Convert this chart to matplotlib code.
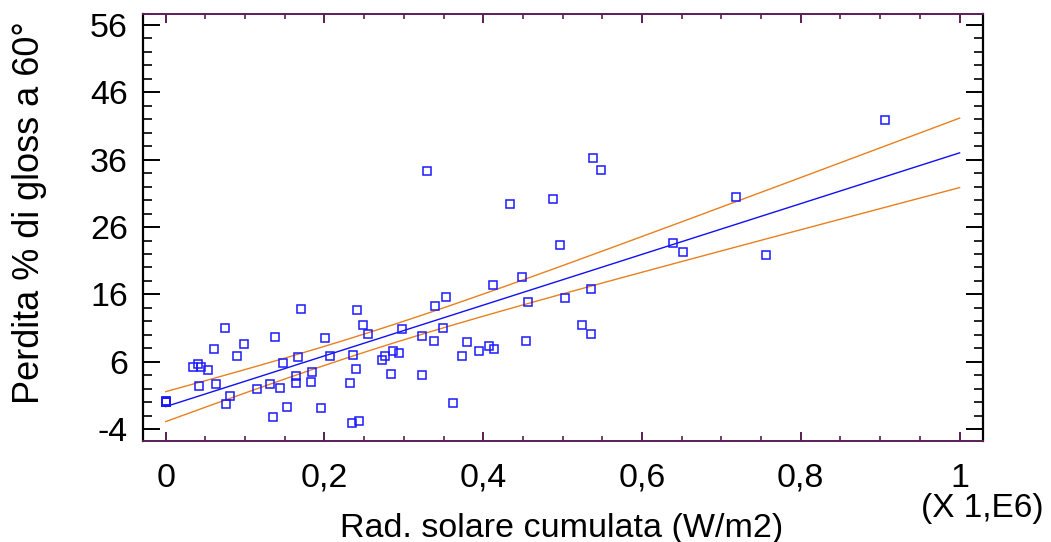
import numpy as np
import matplotlib
matplotlib.use("Agg")
import matplotlib.pyplot as plt
from matplotlib.ticker import MultipleLocator, FuncFormatter

plt.rcParams['font.family'] = ['Liberation Sans', 'DejaVu Sans']

# Cumulative solar radiation (x 1e6 W/m2) and gloss loss at 60 degrees (%)
rad = [0.0, 0.0, 0.0, 0.0, 0.0, 0.0, 0.0, 0.0, 0.0, 0.0,
       0.0341, 0.0403, 0.0442, 0.0537, 0.0420, 0.0628, 0.0612, 0.0747,
       0.0895, 0.0987, 0.0806, 0.0764, 0.1147, 0.1314, 0.1434, 0.1371, 0.1476, 0.1355,
       0.1532, 0.1699, 0.1671, 0.1636, 0.1636, 0.1846, 0.1831, 0.1951, 0.2011, 0.2070,
       0.2316, 0.2364, 0.2398, 0.2411, 0.2350, 0.2433, 0.2486, 0.2545, 0.2726, 0.2760,
       0.2860, 0.2936, 0.2843, 0.2974, 0.3230, 0.3230, 0.3289, 0.3381, 0.3393, 0.3494,
       0.3528, 0.3620, 0.3737, 0.3793, 0.3944, 0.4078, 0.4137, 0.4120, 0.4335, 0.4492,
       0.4536, 0.4569, 0.4880, 0.4969, 0.5032, 0.5242, 0.5359, 0.5359, 0.5388, 0.5479,
       0.6384, 0.6518, 0.7186, 0.7560, 0.9060]
gloss = [0.0, 0.15, 0.0, 0.0, 0.1, 0.0, 0.0, 0.15, 0.0, 0.0,
         5.17, 5.62, 5.17, 4.77, 2.47, 2.69, 7.89, 11.08,
         6.85, 8.62, 0.97, -0.29, 1.98, 2.69, 2.17, 9.65, 5.80, -2.22,
         -0.65, 13.88, 6.66, 3.95, 2.83, 4.55, 3.02, -0.84, 9.51, 6.83,
         2.80, 7.07, 4.95, 13.71, -3.11, -2.77, 11.43, 10.19, 6.33, 6.88,
         7.62, 7.37, 4.25, 10.93, 9.89, 4.06, 34.33, 9.15, 14.25, 11.08,
         15.63, -0.14, 6.88, 8.96, 7.58, 8.41, 7.87, 17.37, 29.48, 18.60,
         9.15, 14.94, 30.13, 23.35, 15.46, 11.43, 16.82, 10.19, 36.26, 34.53,
         23.69, 22.27, 30.52, 21.91, 41.86]

x = np.asarray(rad)
y = np.asarray(gloss)

# Least-squares line with 95% confidence limits for the mean response
n = len(x)
slope, intercept = np.polyfit(x, y, 1)
resid = y - (intercept + slope * x)
s = np.sqrt(np.sum(resid ** 2) / (n - 2))
sxx = np.sum((x - x.mean()) ** 2)
t95 = 1.99
xf = np.linspace(0.0, 1.0, 201)
yf = intercept + slope * xf
half = t95 * s * np.sqrt(1.0 / n + (xf - x.mean()) ** 2 / sxx)

W, H = 1051, 542
fig = plt.figure(figsize=(W / 100, H / 100), dpi=100)
ax = fig.add_axes([143 / W, 1 - 441 / H, (983 - 143) / W, (441 - 14) / H])

orange = '#E8801E'
ax.plot(xf, yf + half, color=orange, lw=1.0, zorder=2)
ax.plot(xf, yf - half, color=orange, lw=1.0, zorder=2)
ax.plot(xf, yf, color='#1010F0', lw=1.0, zorder=3)
ax.plot(x, y, ls='none', marker='s', ms=5.4, mfc='none', mec='#1a1aff', mew=1.1, zorder=4)

ax.set_xlim(-0.0286, 1.0295)
ax.set_ylim(-5.74, 57.6)

ax.xaxis.set_major_locator(MultipleLocator(0.2))
ax.xaxis.set_minor_locator(MultipleLocator(0.05))
ax.yaxis.set_major_locator(MultipleLocator(10, offset=6))
ax.yaxis.set_minor_locator(MultipleLocator(2))


def xfmt(v, pos):
    if abs(v - round(v)) < 1e-9:
        return f"{int(round(v))}"
    return f"{v:.1f}".replace('.', ',')


ax.xaxis.set_major_formatter(FuncFormatter(xfmt))
ax.yaxis.set_major_formatter(FuncFormatter(lambda v, p: f"{int(round(v))}"))

purple = '#5A1E55'
for side in ('top', 'bottom'):
    ax.spines[side].set_color(purple)
    ax.spines[side].set_linewidth(1.4)
for side in ('left', 'right'):
    ax.spines[side].set_color('black')
    ax.spines[side].set_linewidth(1.6)

ax.tick_params(axis='y', which='both', direction='in', left=True, right=True,
               colors='black', labelsize=24.5, pad=11)
ax.tick_params(axis='y', which='major', length=12, width=1.4)
ax.tick_params(axis='y', which='minor', length=6.5, width=1.2)
ax.tick_params(axis='x', which='both', direction='in', bottom=True, top=True,
               color=purple, labelcolor='black', labelsize=24.5, pad=15.5)
ax.tick_params(axis='x', which='major', length=6.5, width=1.4)
ax.tick_params(axis='x', which='minor', length=3.8, width=1.2)

fig.text(562 / W, 1 - 536.7 / H, 'Rad. solare cumulata (W/m2)', fontsize=24.5,
         ha='center', va='baseline')
fig.text(30 / W, 1 - 213 / H, 'Perdita % di gloss a 60°', fontsize=26,
         rotation=90, ha='center', va='center')
fig.text(982 / W, 1 - 517 / H, '(X 1,E6)', fontsize=24, ha='center', va='baseline')

fig.savefig('out.png', dpi=100)
